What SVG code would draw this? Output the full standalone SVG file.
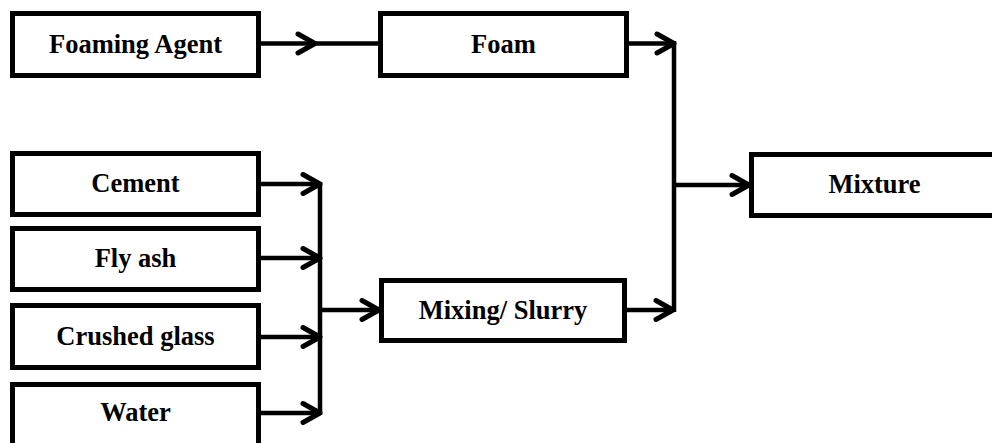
<svg xmlns="http://www.w3.org/2000/svg" width="992" height="443" viewBox="0 0 992 443">
<style>
.box{fill:#fff;stroke:#000;stroke-width:5}
.lbl{font-family:"Liberation Serif","Times New Roman",serif;font-weight:bold;font-size:26.5px;text-anchor:middle;fill:#000}
.ln{fill:none;stroke:#000;stroke-width:4.5}
.ah{fill:none;stroke:#000;stroke-width:5;stroke-linecap:round;stroke-linejoin:round}
</style>
<rect width="992" height="443" fill="#fff"/>
<g id="connectors">
<path class="ln" d="M261 43.5H378"/>
<polyline class="ah" points="298,34 315,43.5 298,53"/>
<path class="ln" d="M629 43.5H674M674 41V312"/>
<polyline class="ah" points="657,34 674,43.5 657,53"/>
<path class="ln" d="M674 185H749"/>
<polyline class="ah" points="732,175.5 749,185 732,194.5"/>
<path class="ln" d="M627 310H674"/>
<polyline class="ah" points="656,300.5 673,310 656,319.5"/>
<path class="ln" d="M261 184H320M261 258H320M261 337H320M261 413H320M320 182V415M320 310H379"/>
<polyline class="ah" points="303,174.5 320,184 303,193.5"/>
<polyline class="ah" points="303,248.5 320,258 303,267.5"/>
<polyline class="ah" points="303,327.5 320,337 303,346.5"/>
<polyline class="ah" points="303,403.5 320,413 303,422.5"/>
<polyline class="ah" points="362,300.5 379,310 362,319.5"/>
</g>
<g id="foaming-agent"><rect class="box" x="12.5" y="13.5" width="246" height="62"/><text class="lbl" x="135.5" y="53">Foaming Agent</text></g>
<g id="foam"><rect class="box" x="380.5" y="13.5" width="246" height="62"/><text class="lbl" x="503.5" y="53">Foam</text></g>
<g id="mixture"><rect class="box" x="751.5" y="154.5" width="246" height="61"/><text class="lbl" x="874.5" y="193">Mixture</text></g>
<g id="cement"><rect class="box" x="12.5" y="153.5" width="246" height="61"/><text class="lbl" x="135.5" y="192">Cement</text></g>
<g id="fly-ash"><rect class="box" x="12.5" y="228.5" width="246" height="61"/><text class="lbl" x="135.5" y="267">Fly ash</text></g>
<g id="crushed-glass"><rect class="box" x="12.5" y="305.5" width="246" height="62"/><text class="lbl" x="135.5" y="345">Crushed glass</text></g>
<g id="water"><rect class="box" x="12.5" y="384.5" width="246" height="70"/><text class="lbl" x="135.5" y="421">Water</text></g>
<g id="mixing-slurry"><rect class="box" x="381.5" y="280.5" width="243" height="60"/><text class="lbl" x="503" y="319">Mixing/ Slurry</text></g>
</svg>
